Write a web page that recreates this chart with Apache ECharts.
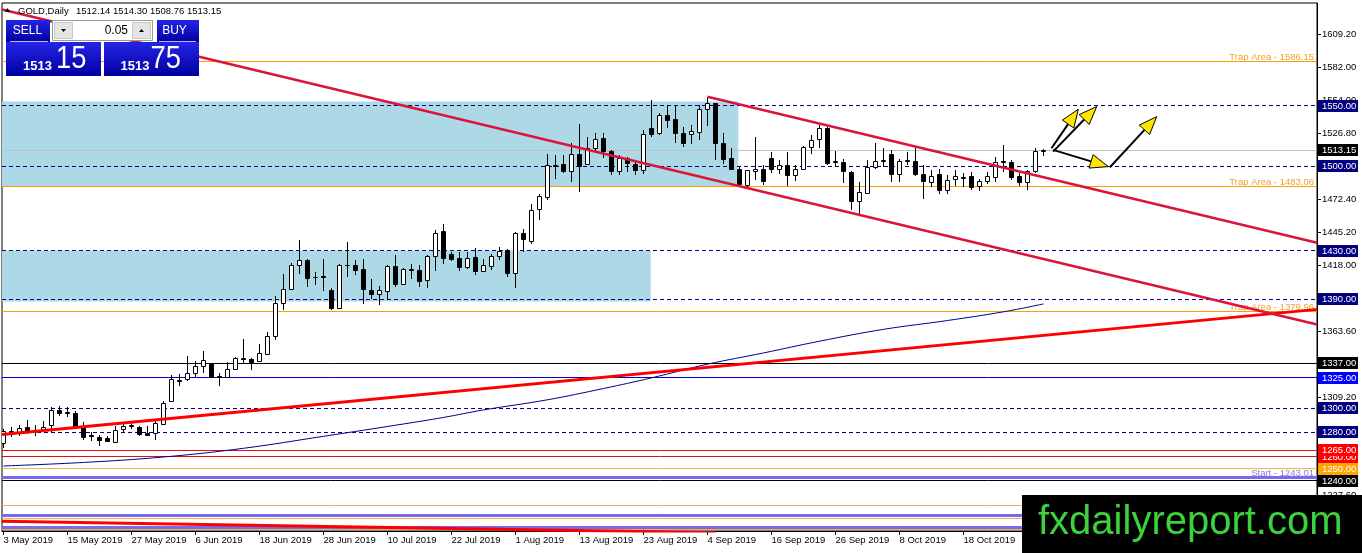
<!DOCTYPE html>
<html><head><meta charset="utf-8">
<script src="https://cdn.jsdelivr.net/npm/echarts@6/dist/echarts.min.js"></script>
<style>html,body{margin:0;padding:0;background:#fff;}#c{width:1362px;height:553px;}</style>
</head><body><div id="c"></div>
<script>
// ---------- DATA ----------
const symbolName = 'GOLD,Daily';
const dateLabels = ['3 May 2019','15 May 2019','27 May 2019','6 Jun 2019','18 Jun 2019','28 Jun 2019','10 Jul 2019','22 Jul 2019','1 Aug 2019','13 Aug 2019','23 Aug 2019','4 Sep 2019','16 Sep 2019','26 Sep 2019','8 Oct 2019','18 Oct 2019'];
const dateTickBars = [0,8,16,24,32,40,48,56,64,72,80,88,96,104,112,120];
const priceTicks = [1609.2,1582,1554,1526.8,1499.6,1472.4,1445.2,1418,1390.8,1363.6,1336.4,1309.2,1282,1254.8,1227.6];

const opens = [1271,1280,1280,1284,1281,1282.3,1286,1298.8,1296.5,1295.8,1285,1277.8,1276.4,1275,1272,1283,1285.5,1284,1279.5,1279.5,
1287,1306,1323,1324.2,1329.2,1334.4,1336.6,1326.5,1325.8,1332.6,1341.5,1340.6,1338.7,1345,1360,1387,1398.7,1418.6,1422.7,1408,
1409,1397.9,1382.6,1418.5,1418,1415.2,1397.9,1394.5,1397,1417.4,1402.8,1414.8,1413.8,1405.5,1425.6,1446,1427,1424.3,1416.6,1425.3,
1413.3,1417.4,1425.6,1430.4,1411.6,1445,1438,1464.9,1474.6,1500.6,1501.6,1496,1510.4,1501.6,1515,1522.9,1512.6,1495.8,1506.8,1501.6,
1497.2,1531.2,1527,1542,1538.8,1527.5,1526.2,1528.3,1546.8,1551.8,1518.7,1506.3,1498,1484.2,1496,1498,1506.3,1498,1500.8,1493,
1498,1515.4,1522,1531.1,1503,1503.5,1495.2,1471.2,1477.8,1499.3,1504,1510,1493.3,1504,1504.4,1493.3,1486.7,1493.3,1480.6,1489.7,
1490.5,1491.7,1483.4,1487.8,1491.1,1503.5,1503.5,1491.7,1487,1495.8,1512.14];
const highs = [1283,1284.2,1286.1,1290.2,1286,1289,1300.8,1302,1300.7,1298,1288.3,1280,1278.1,1277.2,1285.5,1286.5,1288.3,1285.5,1285.5,1289.6,
1306.2,1327,1328.3,1343,1339.3,1347,1337.5,1329,1338,1342.6,1357,1341.6,1353.2,1362.8,1393,1411,1419.9,1438.7,1423.5,1412.4,
1423.5,1399,1419.4,1437,1422.1,1423.5,1407,1400.6,1418,1426.2,1416,1418.8,1418,1426.2,1447.5,1452.5,1429,1429,1429,1432.6,
1423.5,1427,1433,1431.8,1445.5,1448.4,1469,1477.3,1509.9,1509,1509,1519.2,1534.7,1523.7,1527,1527.5,1513.2,1509,1507.6,1504.9,
1529.7,1554.6,1543.6,1550.4,1550.4,1532.5,1533.9,1550.4,1557.3,1552.3,1527,1514.6,1499.3,1497.2,1524.2,1500.8,1511.8,1504.9,1511.8,1500.8,
1516.5,1525.6,1533.9,1532.5,1512.6,1505.5,1496,1487,1504.9,1518.7,1514.6,1513.2,1505.5,1511.8,1514.6,1500.8,1496.6,1498,1492.5,1496.6,
1493.9,1495.2,1489.7,1495.2,1507.6,1517.3,1504.9,1493.9,1497.2,1514.6,1514.30];
const lows = [1267,1275.9,1277.2,1278.6,1277,1281,1280,1293.8,1292.4,1284,1274,1273,1269,1271.7,1271.7,1280.5,1282.8,1277,1277.8,1273.7,
1286.1,1304.8,1318.6,1322,1325.5,1328.8,1325.5,1318.6,1325.5,1331.6,1337,1331.6,1337.9,1344.9,1355.9,1380.7,1397.9,1411,1400,1401.4,
1397,1381,1382,1408.3,1409.7,1385.7,1390.4,1384.9,1389,1400,1402,1407,1400,1399.2,1413.3,1419.4,1421.5,1413.3,1415,1409.7,
1412.4,1414.4,1422.1,1408.3,1399.5,1429,1435.3,1455.2,1471.8,1489.7,1493.9,1487,1478.6,1500.8,1511.8,1507.1,1492.5,1492.5,1495.2,1492.5,
1493.3,1524.2,1525.6,1531.1,1519.2,1515.9,1518,1521.4,1533,1504.9,1501.6,1496.6,1484.2,1483,1488.3,1484.2,1493.9,1493.3,1483.4,1487.8,
1496.6,1510.4,1514.6,1500.8,1499.3,1486.1,1463.5,1458.5,1477,1498,1498.9,1487,1487,1500.8,1491.7,1473,1482.9,1476.8,1476.8,1483.4,
1482.9,1480.6,1479.5,1485.6,1487,1495.2,1488.3,1483.4,1480.6,1494.4,1508.76];
const closes = [1281.4,1281,1283.6,1280,1282,1284.7,1298.8,1295.8,1295.8,1285,1276,1277.3,1273.7,1273,1282,1285,1286,1279,1278,1287.4,
1304,1324,1322,1328.8,1334.4,1339.9,1326.1,1326,1332.5,1341.6,1341,1338,1345.7,1360,1386.8,1398.7,1418.6,1422.7,1407.8,1408.5,
1408,1382.6,1418,1418,1414.4,1398.7,1394.5,1397.3,1417.4,1402.8,1415.2,1414,1405,1425.6,1445,1424,1423,1416.6,1424.3,1413.3,
1418,1425.6,1430,1411.6,1445,1439.5,1463.5,1474.9,1500.6,1500,1496,1510.4,1499.9,1514.6,1522,1512.6,1495.8,1506.3,1502.2,1497.2,
1526.2,1526.4,1542,1538,1527,1519.2,1529,1546.8,1551.8,1518.7,1505.5,1498,1485,1496.6,1498,1487.8,1498,1500.8,1492.5,1498,
1516,1521.4,1531.1,1502.2,1504,1496,1471.2,1478.7,1499.3,1504.4,1505,1493.3,1504.4,1504.8,1493.3,1487.8,1491.7,1480.6,1488.9,1491.7,
1491.3,1482.9,1487.8,1491.7,1503.5,1504.5,1490.6,1487,1495.8,1512.3,1513.15];

const maBars   = [0,10,20,30,40,50,55,60,68,75,81,88,95,102,110,118,125,130];
const maValues = [1252.2,1255.1,1259.6,1266.8,1276.7,1286.9,1292.3,1298.5,1306.9,1316.2,1325.0,1336.3,1345.6,1355.3,1365.1,1372.4,1379.6,1386.1];

const trendDown  = [[-0.1875,1629.4],[164.1875,1369.1]];
const channelTop = [[88,1557.3],[164.1875,1436.7]];
const trendUp    = [[-0.1875,1278.2],[164.1875,1381.6]];
const trendLow   = [[-0.1875,1206.5],[89,1197.0]];

const zoneStart = [-1,-1];
const zoneEnd   = [91.85,80.9];
const zoneTop   = [1553.3,1430.2];
const zoneBot   = [1483.1,1388.1];

const arrowFrom = [[131.0,1514.8],[131.2,1512.0],[131.2,1513.4],[138.3,1499.1]];
const arrowTo   = [[134.35,1547.0],[136.65,1549.2],[138.1,1499.6],[144.15,1540.9]];

const dashedLevels = [1550,1500,1430,1390,1300,1280];
const trapLevels = [1586.15,1483.06,1379.96];
const startLevels = [1243.01];
const bidLevels = [1513.15];
const blackLevels = [1337,1240];
const blueLevels = [1325];
const redLevels = [1260,1265];
const goldLevels = [1250];
const extraOrangeLevels = [1219.3,1209.1,1199.6];
const extraPurpleLevels = [1211.2,1201.5];

const bidPrice = 1513.15, askPrice = 1513.75, lotText = '0.05';

// ---------- LAYOUT ----------
const yMin = 1198.45, yMax = 1634.8, xMin = -0.1875, xMax = 164.1875;
const FONT = '"Liberation Sans", Arial, sans-serif';

const chart = echarts.init(document.getElementById('c'), null, {renderer:'canvas'});

function levelSeries(values, st){
  return {
    type:'custom', z: st.z || 2, clip:false, silent:true,
    data: values.map(v=>[0,v]), encode:{x:0,y:1},
    renderItem:(params, api)=>{
      const v = api.value(1);
      const cs = params.coordSys;
      const y0 = api.coord([0, v])[1];
      const y = (st.width % 2 === 1) ? Math.round(y0 - 0.5) + 0.5 : Math.round(y0);
      const ch = [{type:'line', shape:{x1:cs.x, y1:y, x2:cs.x+cs.width, y2:y},
        style:{stroke:st.color, lineWidth:st.width, lineDash: st.dash || null}}];
      if (st.box) {
        const yc = Math.round(y0);
        ch.push({type:'rect', shape:{x:cs.x+cs.width+1, y:yc-6, width:40, height:12}, style:{fill:st.box}});
        ch.push({type:'text', style:{text:v.toFixed(2), x:cs.x+cs.width+5, y:yc, fill:'#fff', font:'9.5px '+FONT,
          align:'left', verticalAlign:'middle', textAlign:'left', textVerticalAlign:'middle'}});
      }
      if (st.note) {
        ch.push({type:'text', style:{text:st.note+' - '+v.toFixed(2), x:cs.x+cs.width-3, y:y+1, fill:st.noteColor,
          font:'9.5px '+FONT, align:'right', verticalAlign:'bottom', textAlign:'right', textVerticalAlign:'bottom'}});
      }
      return {type:'group', children:ch};
    }
  };
}

const candleData = opens.map((o,i)=>[i, o, closes[i], lows[i], highs[i]]);
const zoneData = zoneStart.map((s,i)=>[s, zoneEnd[i], zoneTop[i], zoneBot[i]]);
const arrowData = arrowFrom.map((a,i)=>[a[0], a[1], arrowTo[i][0], arrowTo[i][1]]);

function grad(){ return new echarts.graphic.LinearGradient(0,0,0,1,[{offset:0,color:'#2424e6'},{offset:1,color:'#0000a2'}]); }

function txt(text, x, y, size, color, align, extra){
  return Object.assign({type:'text', z:101, style:{text, x, y, fill:color, font:size+' '+FONT,
    align:align, verticalAlign:'middle', textAlign:align, textVerticalAlign:'middle'}}, extra||{});
}

const bidInt = Math.floor(bidPrice).toString(), bidFrac = bidPrice.toFixed(2).split('.')[1];
const askInt = Math.floor(askPrice).toString(), askFrac = askPrice.toFixed(2).split('.')[1];
const last = opens.length - 1;
const headerText = [opens[last], highs[last], lows[last], closes[last]].map(v=>v.toFixed(2)).join(' ');

const option = {
  animation:false,
  backgroundColor:'#fff',
  grid:{left:2, right:45, top:3, bottom:22, show:true, borderColor:'#000', borderWidth:1, backgroundColor:'#fff'},
  xAxis:{type:'value', min:xMin, max:xMax, position:'bottom',
    axisLine:{show:true, onZero:false, lineStyle:{color:'#000', width:1}},
    axisTick:{show:true, length:4, customValues:dateTickBars, lineStyle:{color:'#000'}},
    axisLabel:{show:true, customValues:dateTickBars, align:'left', margin:4, fontSize:9.5, fontFamily:FONT, color:'#000',
      formatter:(v)=>dateLabels[dateTickBars.indexOf(Math.round(v))] || ''},
    splitLine:{show:false}},
  yAxis:{type:'value', min:yMin, max:yMax, position:'right',
    axisLine:{show:true, onZero:false, lineStyle:{color:'#000', width:1}},
    axisTick:{show:true, length:4, customValues:priceTicks, lineStyle:{color:'#000'}},
    axisLabel:{show:true, customValues:priceTicks, margin:5, fontSize:9.5, fontFamily:FONT, color:'#000',
      formatter:(v)=>v.toFixed(2)},
    splitLine:{show:false}},
  series:[
    {type:'custom', z:1, clip:true, silent:true, data:zoneData, encode:{x:[0,1], y:[2,3]},
      renderItem:(params, api)=>{
        const p0 = api.coord([api.value(0), api.value(2)]);
        const p1 = api.coord([api.value(1), api.value(3)]);
        return {type:'rect', shape:{x:p0[0], y:p0[1], width:p1[0]-p0[0], height:p1[1]-p0[1]}, style:{fill:'#add8e6'}};
      }},
    levelSeries(extraOrangeLevels, {color:'#f0b050', width:1}),
    levelSeries(extraPurpleLevels, {color:'#7b68ee', width:3}),
    levelSeries(trapLevels, {color:'#ff9d00', width:1, note:'Trap Area', noteColor:'#f0a02a'}),
    levelSeries(startLevels, {color:'#7b68ee', width:3, note:'Start', noteColor:'#8a7be0'}),
    levelSeries(dashedLevels, {color:'#000080', width:1, dash:[4,3], box:'#000080'}),
    levelSeries(blueLevels, {color:'#0000cd', width:1, box:'#0000ff'}),
    levelSeries(redLevels, {color:'#e01010', width:1, box:'#ff0000'}),
    levelSeries(goldLevels, {color:'#e8b84a', width:1, box:'#ffa500'}),
    levelSeries(blackLevels, {color:'#000000', width:1, box:'#000000'}),
    levelSeries(bidLevels, {color:'#c0c0c0', width:1, box:'#000000'}),
    {type:'line', z:3, silent:true, data:maBars.map((b,i)=>[b, maValues[i]]), smooth:0.4, showSymbol:false, symbol:'none',
      lineStyle:{color:'#00008b', width:1}},
    {type:'custom', z:4, clip:true, silent:true, data:candleData, encode:{x:0, y:[1,2,3,4]},
      renderItem:(params, api)=>{
        const i = api.value(0), o = api.value(1), c = api.value(2), l = api.value(3), h = api.value(4);
        const pH = api.coord([i,h]), pL = api.coord([i,l]), pO = api.coord([i,o]), pC = api.coord([i,c]);
        const cx = Math.round(pH[0]-0.5)+0.5;
        const top = Math.round(Math.min(pO[1],pC[1]))+0.5, bot = Math.round(Math.max(pO[1],pC[1]))+0.5;
        const bull = c >= o;
        return {type:'group', children:[
          {type:'line', shape:{x1:cx, y1:Math.round(pH[1]), x2:cx, y2:Math.round(pL[1])}, style:{stroke:'#000', lineWidth:1}},
          {type:'rect', shape:{x:cx-2, y:top, width:4, height:Math.max(bot-top,0)}, style:{fill:bull?'#fff':'#000', stroke:'#000', lineWidth:1}}
        ]};
      }},
    {type:'line', z:5, silent:true, data:trendLow, showSymbol:false, symbol:'none', lineStyle:{color:'#ff0000', width:3}},
    {type:'line', z:5, silent:true, data:trendUp, showSymbol:false, symbol:'none', lineStyle:{color:'#ff0000', width:3}},
    {type:'line', z:5, silent:true, data:trendDown, showSymbol:false, symbol:'none', lineStyle:{color:'#dc143c', width:2.5}},
    {type:'line', z:5, silent:true, data:channelTop, showSymbol:false, symbol:'none', lineStyle:{color:'#dc143c', width:2.5}},
    {type:'custom', z:6, clip:false, silent:true, data:arrowData, encode:{x:[0,2], y:[1,3]},
      renderItem:(params, api)=>{
        const p0 = api.coord([api.value(0), api.value(1)]);
        const p1 = api.coord([api.value(2), api.value(3)]);
        const dx = p1[0]-p0[0], dy = p1[1]-p0[1], len = Math.sqrt(dx*dx+dy*dy);
        const ux = dx/len, uy = dy/len, nx = -uy, ny = ux;
        const L = 18, W = 7;
        const bx = p1[0]-ux*L, by = p1[1]-uy*L;
        return {type:'group', children:[
          {type:'line', shape:{x1:p0[0], y1:p0[1], x2:bx, y2:by}, style:{stroke:'#000', lineWidth:2}},
          {type:'polygon', shape:{points:[[p1[0],p1[1]],[bx+nx*W, by+ny*W],[bx-nx*W, by-ny*W]]}, style:{fill:'#ffe600', stroke:'#000', lineWidth:1}}
        ]};
      }}
  ],
  graphic:[
    {type:'polygon', z:101, shape:{points:[[5,12],[7.5,8],[10,12]]}, style:{fill:'#000'}},
    txt(symbolName, 18, 11, '9.5px', '#000', 'left'),
    txt(headerText, 76, 11, '9.5px', '#000', 'left'),
    {type:'rect', z:100, shape:{x:6, y:20, width:44, height:22}, style:{fill:grad()}},
    {type:'rect', z:100, shape:{x:6, y:42, width:95, height:34}, style:{fill:grad()}},
    {type:'line', z:101, shape:{x1:10, y1:41.5, x2:48, y2:41.5}, style:{stroke:'#b8b8f0', lineWidth:1}},
    txt('SELL', 27.5, 31, '12px', '#fff', 'center'),
    {type:'rect', z:100, shape:{x:157, y:20, width:42, height:22}, style:{fill:grad()}},
    {type:'rect', z:100, shape:{x:104, y:42, width:95, height:34}, style:{fill:grad()}},
    {type:'line', z:101, shape:{x1:159, y1:41.5, x2:196, y2:41.5}, style:{stroke:'#b8b8f0', lineWidth:1}},
    txt('BUY', 174.5, 31, '12px', '#fff', 'center'),
    {type:'rect', z:100, shape:{x:52.5, y:20.5, width:100, height:20}, style:{fill:'#fff', stroke:'#9a9a9a', lineWidth:1}},
    {type:'rect', z:100, shape:{x:54.5, y:22.5, width:18, height:16}, style:{fill:'#e4e4e4', stroke:'#c8c8c8', lineWidth:1}},
    {type:'rect', z:100, shape:{x:132.5, y:22.5, width:18, height:16}, style:{fill:'#e4e4e4', stroke:'#c8c8c8', lineWidth:1}},
    {type:'polygon', z:101, shape:{points:[[61,29],[66,29],[63.5,32]]}, style:{fill:'#000'}},
    {type:'polygon', z:101, shape:{points:[[139,32],[144,32],[141.5,29]]}, style:{fill:'#000'}},
    txt(lotText, 128, 31, '12px', '#000', 'right'),
    txt(bidInt, 23, 66, 'bold 13px', '#fff', 'left'),
    txt(bidFrac, 56, 59, '31px', '#fff', 'left', {scaleX:0.88, originX:56, originY:59}),
    txt(askInt, 120.5, 66, 'bold 13px', '#fff', 'left'),
    txt(askFrac, 150.5, 59, '31px', '#fff', 'left', {scaleX:0.88, originX:150.5, originY:59}),
    {type:'rect', z:200, shape:{x:1022, y:495, width:340, height:58}, style:{fill:'#000'}},
    {type:'text', z:201, style:{text:'fxdailyreport.com', x:1038, y:523, fill:'#3dd23d', font:'40px '+FONT,
      align:'left', verticalAlign:'middle', textAlign:'left', textVerticalAlign:'middle'}}
  ]
};
chart.setOption(option);
</script>
</body></html>
